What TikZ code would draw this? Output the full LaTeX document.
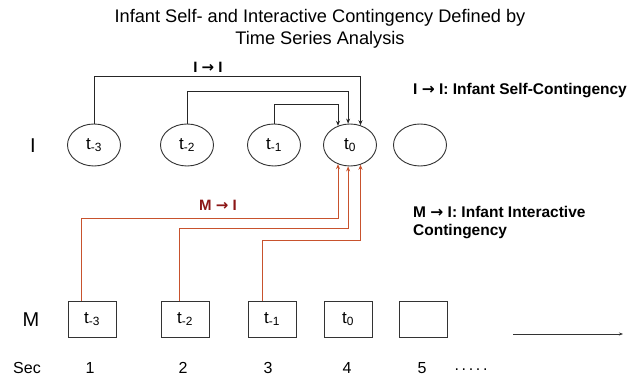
\documentclass[tikz,border=0pt]{standalone}
\usepackage{fontspec}
\setmainfont{Liberation Sans}
\newfontfamily\arrowfont{DejaVu Sans}
\usetikzlibrary{shapes.geometric,arrows.meta}
\definecolor{mline}{RGB}{200,82,45}
\definecolor{mlabel}{RGB}{140,22,22}
\newcommand{\rarr}{{\arrowfont\bfseries →}}
\tikzset{
  ell/.style={draw=black!80,line width=0.9pt,ellipse,minimum width=53pt,minimum height=42pt,inner sep=0pt,font=\fontsize{17}{19}\selectfont},
  box/.style={draw=black!80,line width=0.9pt,rectangle,minimum width=48pt,minimum height=36pt,inner sep=0pt,font=\fontsize{17}{19}\selectfont},
  iline/.style={draw=black!85,line width=0.8pt,-{Stealth[length=5pt,width=4pt]}},
  mline/.style={draw=mline,line width=0.8pt,-{Stealth[length=5pt,width=4pt]}},
  lbl/.style={font=\fontsize{20}{22}\selectfont},
  num/.style={font=\fontsize{16}{18}\selectfont},
  bold/.style={font=\fontsize{15.5}{18}\selectfont\bfseries,align=left,anchor=west,inner sep=0pt},
}
\begin{document}
\begin{tikzpicture}[x=1pt,y=-1pt]
\useasboundingbox[fill=white] (0,0) rectangle (630,382);
\node[font=\fontsize{18.2}{22}\selectfont,align=center] (title) at (320,29) {Infant Self- and Interactive Contingency Defined by\\Time Series Analysis};
% I row
\node[lbl] (Ilab) at (33,146) {I};
\node[ell] (e3) at (94,145) {t\textsubscript{-3}};
\node[ell] (e2) at (187,145) {t\textsubscript{-2}};
\node[ell] (e1) at (274,145) {t\textsubscript{-1}};
\node[ell] (e0) at (350,145) {t\textsubscript{0}};
\node[ell] (e4) at (420,145) {};
% M row
\node[lbl] (Mlab) at (31,320) {M};
\node[box] (m3) at (92,319) {t\textsubscript{-3}};
\node[box] (m2) at (185,319) {t\textsubscript{-2}};
\node[box] (m1) at (272,319) {t\textsubscript{-1}};
\node[box] (m0) at (348,319) {t\textsubscript{0}};
\node[box] (m4) at (423,319) {};
% Sec row
\node[num] (sec) at (27,368) {Sec};
\node[num] (s1) at (90,368) {1};
\node[num] (s2) at (183,368) {2};
\node[num] (s3) at (268,368) {3};
\node[num] (s4) at (347,368) {4};
\node[num] (s5) at (422,368) {5};
\node[num] (dots) at (471,370) {.\,.\,.\,.\,.};
% time arrow
\coordinate (ta) at (513,334);
\coordinate (tb) at (623,334);
\draw[draw=black!80,line width=0.6pt,-{Stealth[length=4pt,width=3pt]}] (ta) -- (tb);
% I -> I connectors
\draw[iline] (e3.north) |- (e0.62.7 |- 0,76) -- (e0.62.7);
\draw[iline] (e2.north) |- (e0.95 |- 0,91) -- (e0.95);
\draw[iline] (e1.north) |- (e0.122.7 |- 0,104) -- (e0.122.7);
\node[font=\fontsize{15}{17}\selectfont\bfseries,inner sep=0pt] (ii) at (208,67) {I \rarr{} I};
% M -> I connectors
\draw[mline] ([xshift=-11pt]m3.north) |- (e0.-122.7 |- 0,218) -- (e0.-122.7);
\draw[mline] ([xshift=-6pt]m2.north) |- (e0.-95 |- 0,228) -- (e0.-95);
\draw[mline] ([xshift=-10pt]m1.north) |- (e0.-62.7 |- 0,240) -- (e0.-62.7);
\node[font=\fontsize{15}{17}\selectfont\bfseries,text=mlabel,inner sep=0pt] (mi) at (218,205) {M \rarr{} I};
% legend texts
\node[bold] (leg1) at (413,91) {I \rarr{} I: Infant Self-Contingency};
\node[bold] (leg2) at (413,223) {M \rarr{} I: Infant Interactive\\Contingency};
\end{tikzpicture}
\end{document}
